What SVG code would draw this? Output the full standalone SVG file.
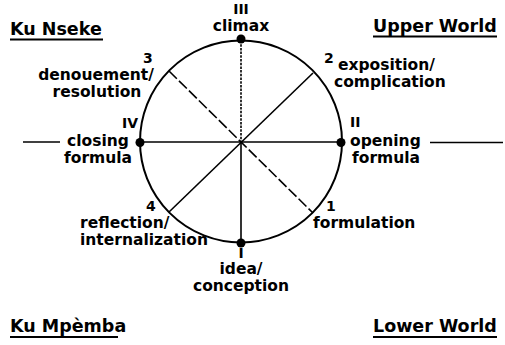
<svg xmlns="http://www.w3.org/2000/svg" width="505" height="345" viewBox="0 0 505 345">
<style>
text{font-family:"DejaVu Sans","Verdana",sans-serif;font-weight:bold;fill:#000}
.t{font-size:17.5px}
.l{font-size:15.5px}
.n{font-size:14px}
.m{text-anchor:middle}
.ul{stroke:#000;stroke-width:1.8}
.ln{stroke:#000;stroke-width:1.6;fill:none}
.dot{fill:#000}
</style>
<rect width="505" height="345" fill="#fff"/>
<g id="wheel">
<circle cx="241" cy="141.5" r="101" fill="none" stroke="#000" stroke-width="2"/>
</g>
<g id="connectors">
<line class="ln" x1="241" y1="40.5" x2="241" y2="141.5" stroke-dasharray="2.5 1.2" stroke-width="1.4"/>
<line class="ln" x1="241" y1="141.5" x2="241" y2="242.5"/>
<line class="ln" x1="140" y1="142" x2="341" y2="142"/>
<line class="ln" x1="169" y1="71" x2="313" y2="213" stroke-dasharray="11 3"/>
<line class="ln" x1="313" y1="73" x2="169" y2="212"/>
<line class="ln" x1="23" y1="142" x2="60" y2="142"/>
<line class="ln" x1="430" y1="142.5" x2="503" y2="142.5"/>
</g>
<g id="title-ku-nseke">
<text class="t" x="10" y="35">Ku Nseke</text>
<line class="ul" x1="10" y1="39.5" x2="103" y2="39.5"/>
</g>
<g id="title-upper-world">
<text class="t" x="373" y="32">Upper World</text>
<line class="ul" x1="373" y1="36.5" x2="497" y2="36.5"/>
</g>
<g id="title-ku-mpemba">
<text class="t" x="10" y="332">Ku Mpèmba</text>
<line class="ul" x1="10" y1="337" x2="118" y2="337"/>
</g>
<g id="title-lower-world">
<text class="t" x="373" y="332">Lower World</text>
<line class="ul" x1="373" y1="337" x2="497" y2="337"/>
</g>
<g id="node-III">
<circle class="dot" cx="241" cy="39" r="4.5"/>
<text class="n m" x="241" y="14">III</text>
<text class="l m" x="241" y="31">climax</text>
</g>
<g id="node-2">
<text class="n" x="324" y="63">2</text>
<text class="l" x="338" y="70">exposition/</text>
<text class="l" x="334" y="87">complication</text>
</g>
<g id="node-II">
<circle class="dot" cx="341" cy="142.5" r="4.5"/>
<text class="n" x="350" y="127">II</text>
<text class="l" x="350" y="146">opening</text>
<text class="l" x="352" y="163">formula</text>
</g>
<g id="node-1">
<text class="n" x="326" y="211">1</text>
<text class="l" x="313" y="228">formulation</text>
</g>
<g id="node-I">
<circle class="dot" cx="241" cy="243" r="4.5"/>
<text class="n m" x="241" y="258">I</text>
<text class="l m" x="241" y="274">idea/</text>
<text class="l m" x="241" y="291">conception</text>
</g>
<g id="node-4">
<text class="n" x="146" y="211">4</text>
<text class="l" x="80" y="228">reflection/</text>
<text class="l" x="80" y="245">internalization</text>
</g>
<g id="node-IV">
<circle class="dot" cx="140" cy="142.5" r="4.5"/>
<text class="n" x="122" y="128">IV</text>
<text class="l m" x="98" y="146">closing</text>
<text class="l m" x="98" y="163">formula</text>
</g>
<g id="node-3">
<text class="n" x="143" y="63">3</text>
<text class="l m" x="96" y="80">denouement/</text>
<text class="l m" x="97" y="97">resolution</text>
</g>
</svg>
